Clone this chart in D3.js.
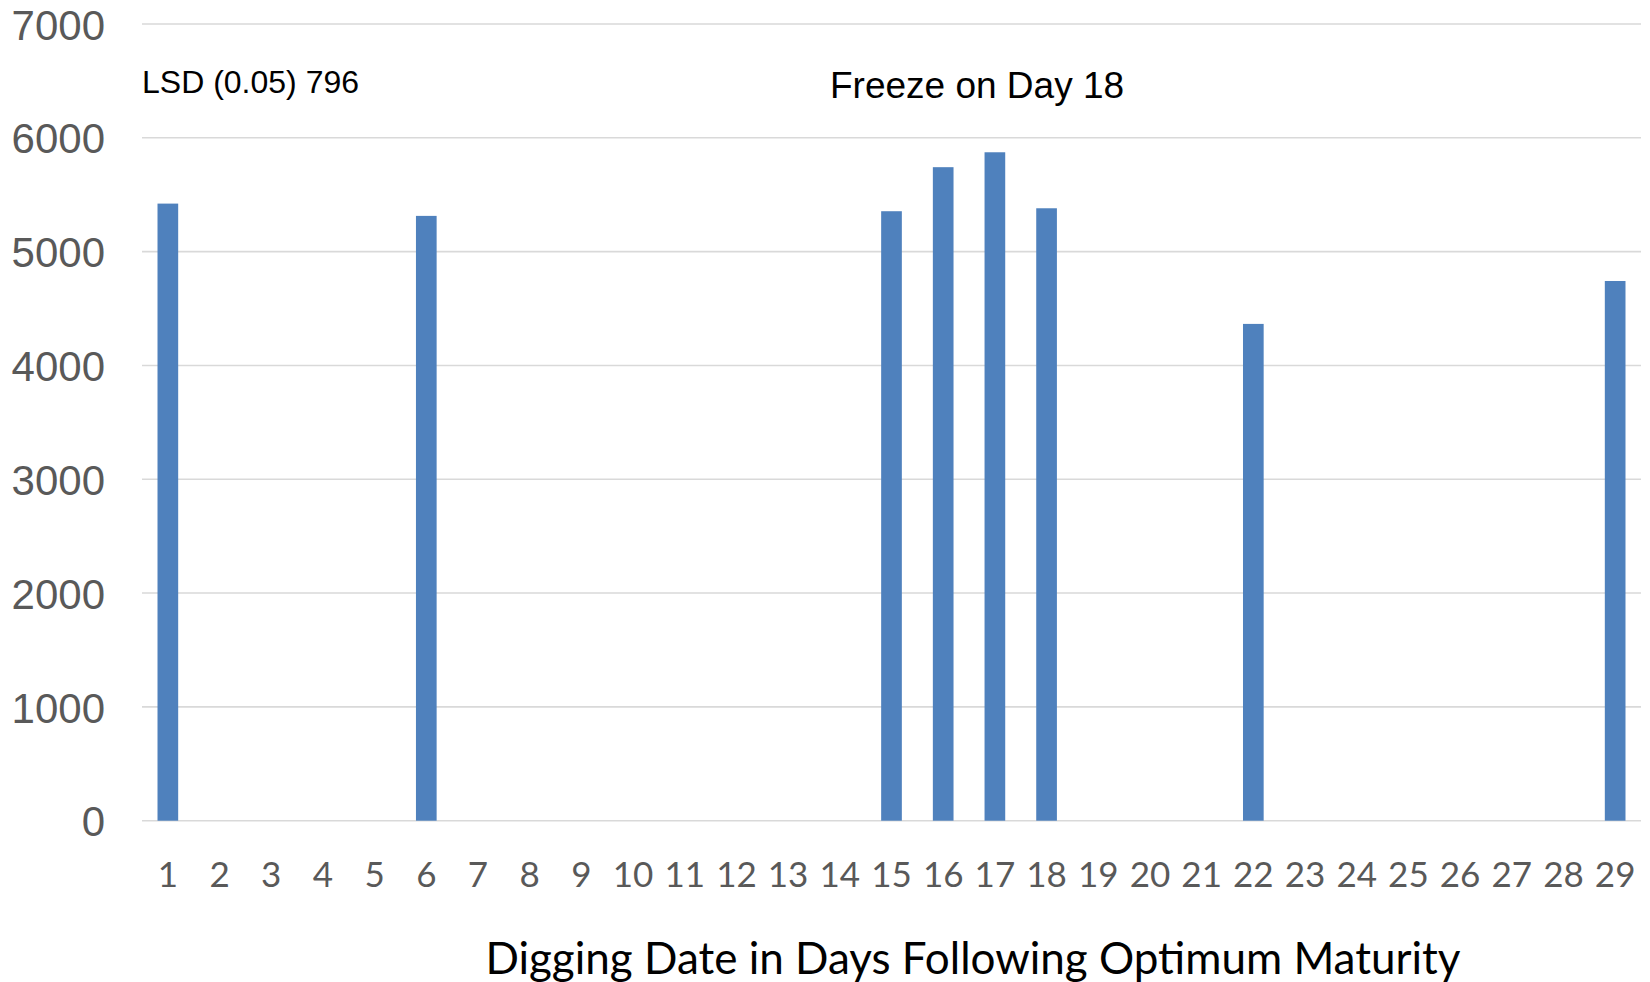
<!DOCTYPE html>
<html>
<head>
<meta charset="utf-8">
<script src="https://cdn.jsdelivr.net/npm/d3@7"></script>
<style>
  html, body { margin: 0; padding: 0; background: #ffffff; }
  svg { display: block; }
</style>
</head>
<body>
<svg id="chart"></svg>
<script>
// Digging date (days after optimum maturity) and yield; null = not dug that day
const days = d3.range(1, 30).map(String);
const yieldValues = [
  5422, null, null, null, null, 5314, null, null, null, null,
  null, null, null, null, 5355, 5742, 5873, 5381, null, null,
  null, 4365, null, null, null, null, null, null, 4742
];
const yTicks = [0, 1000, 2000, 3000, 4000, 5000, 6000, 7000];
const xTitle = "Digging Date in Days Following Optimum Maturity";
const lsdNote = "LSD (0.05) 796";
const freezeNote = "Freeze on Day 18";

const width = 1650;
const height = 982;
const plot = { left: 142, right: 1641, top: 24, bottom: 820.7 };

const svg = d3.select("#chart")
  .attr("width", width)
  .attr("height", height);

const x = d3.scaleBand()
  .domain(days)
  .range([plot.left, plot.right])
  .paddingInner(0.6)
  .paddingOuter(0.3);

const y = d3.scaleLinear()
  .domain([0, 7000])
  .range([plot.bottom, plot.top]);

// Gridlines
svg.append("g")
  .selectAll("line")
  .data(yTicks)
  .enter()
  .append("line")
  .attr("x1", plot.left)
  .attr("x2", plot.right)
  .attr("y1", d => y(d))
  .attr("y2", d => y(d))
  .attr("stroke", "#d9d9d9")
  .attr("stroke-width", 1.6);

// Y axis labels
const yAxis = svg.append("g")
  .attr("transform", `translate(${plot.left - 37},0)`)
  .call(d3.axisLeft(y).tickValues(yTicks).tickFormat(d3.format("d")).tickSize(0).tickPadding(0));
yAxis.select(".domain").remove();
yAxis.selectAll("text")
  .attr("fill", "#595959")
  .attr("dy", "0.36em")
  .style("font-family", "'Liberation Sans', Arial, sans-serif")
  .style("font-size", "42px");

// Bars
const barData = days.map((d, i) => ({ day: d, value: yieldValues[i] }))
  .filter(d => d.value !== null);

svg.append("g")
  .selectAll("rect")
  .data(barData)
  .enter()
  .append("rect")
  .attr("x", d => x(d.day))
  .attr("width", x.bandwidth())
  .attr("y", d => y(d.value))
  .attr("height", d => y(0) - y(d.value))
  .attr("fill", "#4f81bd");

// X axis labels
const xAxis = svg.append("g")
  .attr("transform", `translate(0,${plot.bottom})`)
  .call(d3.axisBottom(x).tickSize(0).tickPadding(0));
xAxis.select(".domain").remove();
xAxis.selectAll("text")
  .attr("y", 66)
  .attr("dy", 0)
  .attr("fill", "#595959")
  .style("font-family", "Lato, 'Open Sans', sans-serif")
  .style("font-size", "35px");

// Axis title
svg.append("text")
  .attr("x", 973)
  .attr("y", 974)
  .attr("text-anchor", "middle")
  .attr("fill", "#000000")
  .style("font-family", "Lato, 'Open Sans', sans-serif")
  .style("font-size", "44px")
  .text(xTitle);

// Annotations
svg.append("text")
  .attr("x", 142)
  .attr("y", 93)
  .attr("fill", "#000000")
  .style("font-family", "'Liberation Sans', Arial, sans-serif")
  .style("font-size", "32px")
  .text(lsdNote);

svg.append("text")
  .attr("x", 830)
  .attr("y", 98)
  .attr("fill", "#000000")
  .style("font-family", "'Liberation Sans', Arial, sans-serif")
  .style("font-size", "37px")
  .text(freezeNote);
</script>
</body>
</html>
